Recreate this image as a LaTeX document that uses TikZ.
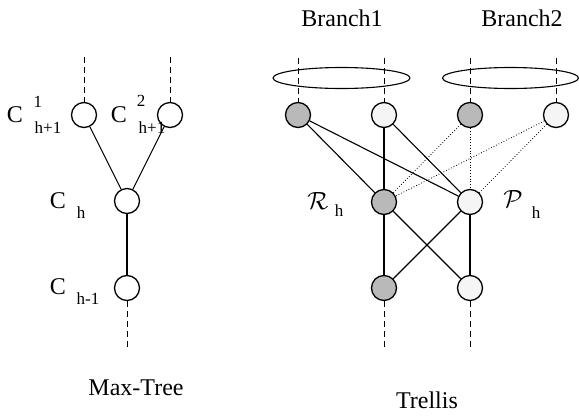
\documentclass[tikz,border=0pt]{standalone}
\usepackage{fontspec}
\setmainfont{Liberation Serif}
\usetikzlibrary{shapes.geometric}
\begin{document}
\begin{tikzpicture}[x=1pt,y=-1pt,
  nd/.style={circle,draw,line width=1.3pt,minimum size=25pt,inner sep=0pt},
  dk/.style={nd,fill=gray!55},
  lt/.style={nd,fill=gray!8},
  wh/.style={nd,fill=white},
  dsh/.style={line width=0.9pt,dash pattern=on 6pt off 4pt},
  sol/.style={line width=1.1pt},
  dot/.style={line width=0.8pt,dotted},
  big/.style={font=\fontsize{24}{26}\selectfont,inner sep=0pt},
  sml/.style={font=\fontsize{17}{19}\selectfont,inner sep=0pt}]
\useasboundingbox (0,0) rectangle (579,416);
% ---------------- Max-Tree ----------------
\coordinate (ta) at (84,57);
\coordinate (tb) at (170,57);
\coordinate (tc) at (127,348);
\node[wh] (c1) at (84,115) {};
\node[wh] (c2) at (170,115) {};
\node[wh] (ch) at (127,201) {};
\node[wh] (cm) at (127,288) {};
\draw[dsh] (ta) -- (c1);
\draw[dsh] (tb) -- (c2);
\draw[dsh] (cm) -- (tc);
\draw[sol] (c1) -- (ch);
\draw[sol] (c2) -- (ch);
\draw[sol] (ch) -- (cm);
\node[big] (l1) at (15,115) {C};
\node[sml] (l1s) at (38,102) {1};
\node[sml] (l1b) at (48,128) {h+1};
\node[big] (l2) at (119,115) {C};
\node[sml] (l2s) at (141,101) {2};
\node[sml] (l2b) at (152,128) {h+1};
\node[big] (l3) at (58,201) {C};
\node[sml] (l3b) at (81,213) {h};
\node[big] (l4) at (58,287) {C};
\node[sml] (l4b) at (88,299) {h-1};
\node[big] (mt) at (136,388) {Max-Tree};
% ---------------- Trellis ----------------
\node[big] (b1) at (342,18) {Branch1};
\node[big] (b2) at (522,18) {Branch2};
\node[draw,ellipse,line width=1.1pt,minimum width=137pt,minimum height=21pt,inner sep=0pt] (e1) at (341.5,78) {};
\node[draw,ellipse,line width=1.1pt,minimum width=136pt,minimum height=21pt,inner sep=0pt] (e2) at (510.5,78) {};
\node[dk] (t1) at (298,115) {};
\node[lt] (t2) at (384,115) {};
\node[dk] (t3) at (470,115) {};
\node[lt] (t4) at (556,115) {};
\node[dk] (r) at (384,202) {};
\node[lt] (p) at (470,202) {};
\node[dk] (u1) at (384,288) {};
\node[lt] (u2) at (470,288) {};
\coordinate (d1) at (298,58);
\coordinate (d2) at (384,58);
\coordinate (d3) at (470,58);
\coordinate (d4) at (556,58);
\coordinate (f1) at (384,348);
\coordinate (f2) at (470,348);
\draw[dsh] (d1) -- (t1);
\draw[dsh] (d2) -- (t2);
\draw[dsh] (d3) -- (t3);
\draw[dsh] (d4) -- (t4);
\draw[dsh] (u1) -- (f1);
\draw[dsh] (u2) -- (f2);
\draw[sol] (t1) -- (r);
\draw[sol] (t1) -- (p);
\draw[sol] (t2) -- (r);
\draw[sol] (t2) -- (p);
\draw[dot] (t3) -- (r);
\draw[dot] (t3) -- (p);
\draw[dot] (t4) -- (r);
\draw[dot] (t4) -- (p);
\draw[sol] (r) -- (u1);
\draw[sol] (r) -- (u2);
\draw[sol] (p) -- (u1);
\draw[sol] (p) -- (u2);
\node[big] (rl) at (318,201) {$\mathcal{R}$};
\node[sml] (rh) at (339,211) {h};
\node[big] (pl) at (513,199) {$\mathcal{P}$};
\node[sml] (ph) at (536,213) {h};
\node[big] (tr) at (427,400) {Trellis};
\end{tikzpicture}
\end{document}
